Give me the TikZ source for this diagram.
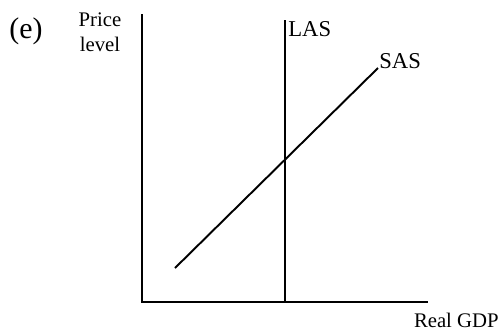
\documentclass[tikz,border=0pt]{standalone}
\usepackage{fontspec}
\setmainfont{Liberation Serif}
\usepackage{tikz}
\usetikzlibrary{positioning}
\tikzset{
  axisline/.style={line width=1.1pt, color=black},
  curve/.style={line width=1.1pt, color=black},
  lbl/.style={font=\fontsize{12.9}{14.2}\selectfont, inner sep=0pt},
  small/.style={font=\fontsize{11.8}{14.2}\selectfont, inner sep=0pt},
  panel/.style={font=\fontsize{17}{19}\selectfont, inner sep=0pt}
}
\begin{document}
\begin{tikzpicture}[x=0.02cm,y=-0.02cm]
  \useasboundingbox (0,0) rectangle (500,329);
  % axes
  \coordinate (origin) at (142,302);
  \coordinate (ytop) at (142,14);
  \coordinate (xend) at (428,302);
  \draw[axisline] (ytop) -- (origin) -- (xend);

  % long-run and short-run supply
  \coordinate (lastop) at (285,20);
  \coordinate (lasbot) at (285,302);
  \draw[curve] (lastop) -- (lasbot);
  \coordinate (sasstart) at (175,268);
  \coordinate (sasend) at (378,68);
  \draw[curve] (sasstart) -- (sasend);

  \node[lbl, anchor=west] (las) at (288,29) {LAS};
  \node[lbl, anchor=west] (sas) at (379,61) {SAS};
  \node[small, align=center] (price) at (100,32) {Price\\level};
  \node[small, anchor=east] (gdp) at (499,320) {Real GDP};
  \node[panel] (panel) at (26,31) {(e)};
\end{tikzpicture}
\end{document}
